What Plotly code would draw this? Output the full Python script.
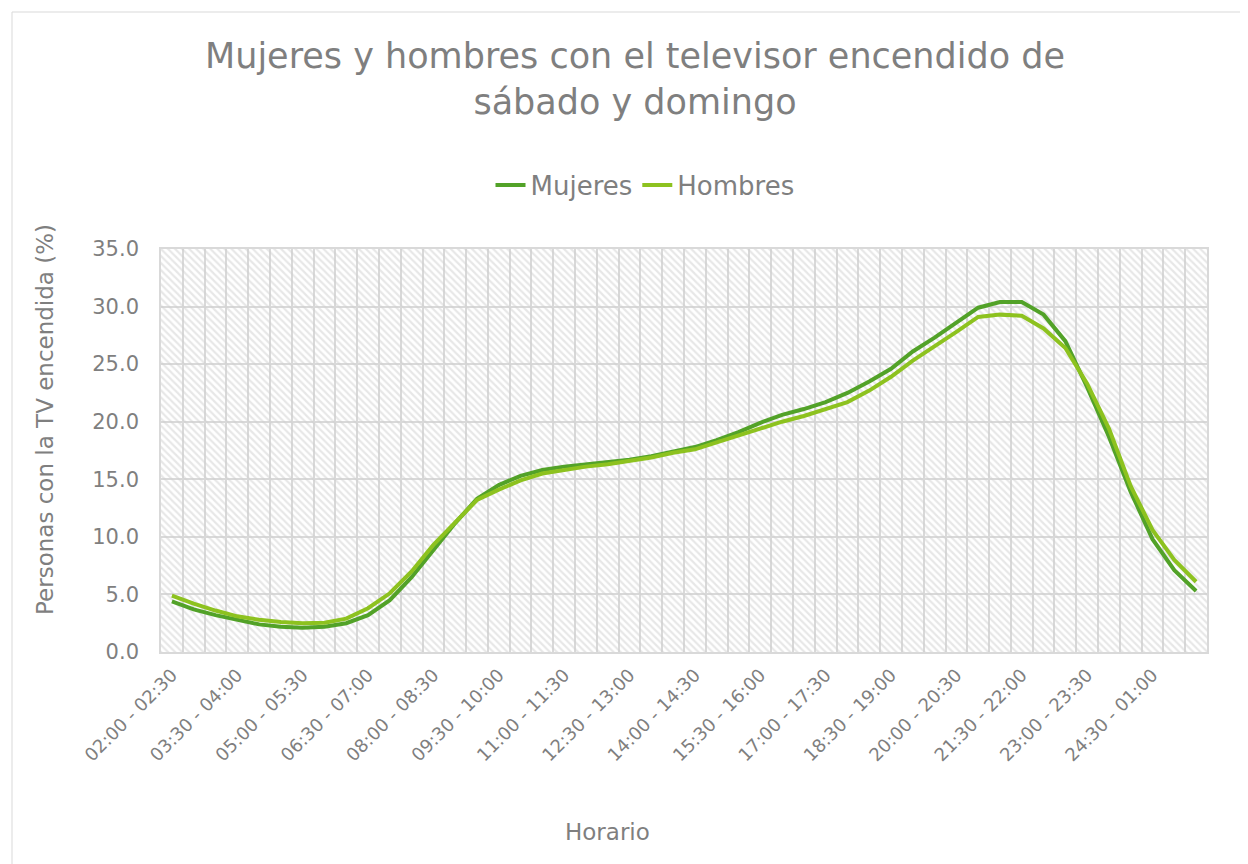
import plotly.graph_objects as go

categories = [
    "02:00 - 02:30", "02:30 - 03:00", "03:00 - 03:30", "03:30 - 04:00",
    "04:00 - 04:30", "04:30 - 05:00", "05:00 - 05:30", "05:30 - 06:00",
    "06:00 - 06:30", "06:30 - 07:00", "07:00 - 07:30", "07:30 - 08:00",
    "08:00 - 08:30", "08:30 - 09:00", "09:00 - 09:30", "09:30 - 10:00",
    "10:00 - 10:30", "10:30 - 11:00", "11:00 - 11:30", "11:30 - 12:00",
    "12:00 - 12:30", "12:30 - 13:00", "13:00 - 13:30", "13:30 - 14:00",
    "14:00 - 14:30", "14:30 - 15:00", "15:00 - 15:30", "15:30 - 16:00",
    "16:00 - 16:30", "16:30 - 17:00", "17:00 - 17:30", "17:30 - 18:00",
    "18:00 - 18:30", "18:30 - 19:00", "19:00 - 19:30", "19:30 - 20:00",
    "20:00 - 20:30", "20:30 - 21:00", "21:00 - 21:30", "21:30 - 22:00",
    "22:00 - 22:30", "22:30 - 23:00", "23:00 - 23:30", "23:30 - 24:00",
    "24:00 - 24:30", "24:30 - 01:00", "01:00 - 01:30", "01:30 - 02:00",
]

mujeres = [
    4.4, 3.7, 3.2, 2.8, 2.4, 2.2, 2.1, 2.2, 2.5, 3.2, 4.5, 6.5,
    8.9, 11.2, 13.3, 14.5, 15.3, 15.8, 16.1, 16.3, 16.5, 16.7, 17.0, 17.4,
    17.8, 18.4, 19.1, 19.9, 20.6, 21.1, 21.7, 22.5, 23.5, 24.6, 26.1, 27.3,
    28.6, 29.9, 30.4, 30.4, 29.3, 27.0, 23.0, 18.7, 13.9, 9.8, 7.1, 5.3,
]

hombres = [
    4.9, 4.2, 3.6, 3.1, 2.8, 2.6, 2.5, 2.55, 2.9, 3.8, 5.1, 7.0,
    9.3, 11.3, 13.2, 14.1, 14.9, 15.5, 15.8, 16.1, 16.3, 16.6, 16.9, 17.3,
    17.6, 18.2, 18.8, 19.35, 20.0, 20.5, 21.1, 21.7, 22.7, 23.9, 25.3, 26.5,
    27.8, 29.1, 29.3, 29.2, 28.1, 26.4, 23.3, 19.4, 14.4, 10.6, 8.0, 6.1,
]

tick_labels = categories[::3]

FONT = "DejaVu Sans"
GRAY = "#7f7f7f"
GRID = "#d9d9d9"
DARK = "#52a228"
LIGHT = "#8dc21f"

# page body adds an 8px offset; work in screen pixels and subtract it
OFF = 8
W, H = 1248 - OFF, 864 - OFF
px_l, px_r, px_t, px_b = 161 - OFF, 1207 - OFF, 249 - OFF, 652 - OFF


def xp(p):
    return (p - OFF - px_l) / (px_r - px_l)


def yp(p):
    return (px_b - (p - OFF)) / (px_b - px_t)


fig = go.Figure()

# Background hatch of the plot area (decoration on hidden unit axes)
fig.add_trace(go.Scatter(
    x=[0, 1, 1, 0, 0], y=[0, 0, 1, 1, 0],
    xaxis="x", yaxis="y",
    mode="lines", line=dict(width=0),
    fill="toself", fillcolor="rgba(0,0,0,0)",
    fillpattern=dict(shape="\\", fgcolor="#d0d0d0", bgcolor="rgba(0,0,0,0)",
                     size=5, solidity=0.45),
    hoverinfo="skip", showlegend=False,
))

fig.add_trace(go.Scatter(
    x=categories, y=mujeres, name="Mujeres", mode="lines",
    xaxis="x2", yaxis="y2",
    line=dict(color=DARK, width=4),
))
fig.add_trace(go.Scatter(
    x=categories, y=hombres, name="Hombres", mode="lines",
    xaxis="x2", yaxis="y2",
    line=dict(color=LIGHT, width=4),
))

shapes = [
    dict(type="line", xref="paper", yref="paper", x0=xp(12), x1=xp(1270),
         y0=yp(12), y1=yp(12), line=dict(color=GRID, width=1)),
    dict(type="line", xref="paper", yref="paper", x0=xp(12), x1=xp(12),
         y0=yp(12), y1=yp(900), line=dict(color=GRID, width=1)),
]

annotations = [
    dict(text="Horario", xref="paper", yref="paper", x=xp(607), y=yp(832),
         xanchor="center", yanchor="middle", showarrow=False,
         font=dict(family=FONT, size=23, color=GRAY)),
    dict(text="Personas con la TV encendida (%)", xref="paper", yref="paper",
         x=xp(45), y=yp(420), xanchor="center", yanchor="middle",
         textangle=-90, showarrow=False,
         font=dict(family=FONT, size=23, color=GRAY)),
]

fig.update_layout(
    width=W, height=H,
    margin=dict(l=px_l, r=W - px_r, t=px_t, b=H - px_b),
    paper_bgcolor="white", plot_bgcolor="white",
    font=dict(family=FONT, color=GRAY),
    title=dict(
        text="Mujeres y hombres con el televisor encendido de<br>sábado y domingo",
        font=dict(family=FONT, size=35, color=GRAY),
        x=(635 - OFF) / W, xanchor="center", xref="container",
        y=1 - (68 - OFF) / H, yanchor="top", yref="container",
    ),
    legend=dict(
        orientation="h", x=xp(645), xanchor="center", y=yp(185), yanchor="middle",
        font=dict(family=FONT, size=26, color=GRAY),
        bgcolor="rgba(0,0,0,0)",
    ),
    xaxis=dict(
        range=[0, 1], tick0=0, dtick=1 / len(categories),
        showgrid=True, gridcolor=GRID, gridwidth=1.5,
        showticklabels=False, ticks="", zeroline=False,
        showline=True, mirror=True, linecolor=GRID, linewidth=1.5,
        fixedrange=True,
    ),
    yaxis=dict(
        range=[0, 1], showgrid=False, showticklabels=False, ticks="",
        zeroline=False, showline=True, mirror=True, linecolor=GRID,
        linewidth=1.5, fixedrange=True,
    ),
    xaxis2=dict(
        overlaying="x", type="category", categoryorder="array",
        categoryarray=categories,
        tickmode="array", tickvals=tick_labels, ticktext=tick_labels,
        tickangle=-45, tickfont=dict(family=FONT, size=18, color=GRAY),
        ticks="", showgrid=False, zeroline=False, showline=False,
        ticklabelstandoff=8,
        range=[-0.5, len(categories) - 0.5],
    ),
    yaxis2=dict(
        overlaying="y", side="left", range=[0, 35], dtick=5, tickformat=".1f",
        showgrid=True, gridcolor=GRID, gridwidth=1.5, zeroline=False,
        tickfont=dict(family=FONT, size=21, color=GRAY),
        ticks="", ticklabelstandoff=21,
    ),
    shapes=shapes,
    annotations=annotations,
    showlegend=True,
)

fig.write_html("out.html")
